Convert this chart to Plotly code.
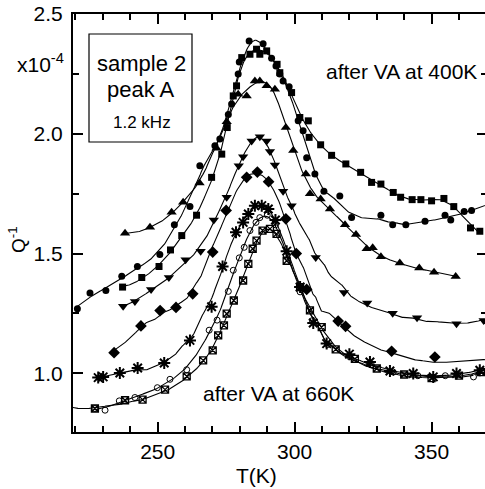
import numpy as np
import plotly.graph_objects as go

# ---------------- data ----------------
T_circ = [220.7, 225.3, 231.1, 236.9, 242.6, 250.8, 256.1, 261.8, 265.4, 270.9, 272.7, 275.8, 277.0,
          279.4, 279.8, 283.4, 288.5, 291.6, 293.2, 294.6, 295.8, 298.0, 301.3, 303.1, 304.4, 307.4,
          310.7, 316.5, 320.8, 331.5, 335.8, 340.6, 347.6, 354.9, 357.0, 361.9, 364.6, 372.0]
Q_circ = [1.27, 1.335, 1.346, 1.405, 1.446, 1.496, 1.62, 1.696, 1.867, 1.95, 1.978, 2.08, 2.124,
          2.25, 2.30, 2.387, 2.376, 2.315, 2.283, 2.25, 2.22, 2.196, 2.054, 2.0125, 1.90, 1.832,
          1.76, 1.74, 1.65, 1.66, 1.62, 1.62, 1.635, 1.66, 1.64, 1.676, 1.68, 1.71]

T_sq = [237.2, 244.2, 250.5, 254.7, 258.8, 264.2, 269.7, 273.4, 275.4, 277.6, 278.8, 280.7, 283.7,
        286.1, 287.3, 289.8, 293.6, 294.6, 298.9, 301.9, 305.0, 305.3, 309.5, 313.5, 318.7, 324.1,
        328.1, 331.5, 336.0, 338.7, 342.9, 346.1, 350.0, 354.5, 358.1, 364.2, 367.6]
Q_sq = [1.36, 1.40, 1.446, 1.515, 1.575, 1.66, 1.818, 1.915, 2.026, 2.158, 2.20, 2.318, 2.332,
        2.353, 2.332, 2.346, 2.29, 2.255, 2.172, 2.068, 2.054, 1.985, 1.954, 1.91, 1.874, 1.839,
        1.797, 1.79, 1.755, 1.735, 1.725, 1.725, 1.72, 1.73, 1.696, 1.607, 1.593]

T_tu = [238.1, 247.2, 255.1, 259.3, 265.3, 271.5, 275.2, 279.4, 282.5, 285.5, 287.3, 289.8, 292.8,
        296.8, 299.5, 304.1, 305.6, 309.5, 312.9, 318.4, 322.4, 326.3, 328.5, 331.5, 338.4, 345.5,
        350.9, 358.8]
Q_tu = [1.585, 1.61, 1.672, 1.714, 1.795, 1.94, 2.05, 2.165, 2.158, 2.22, 2.22, 2.20, 2.186,
        2.026, 1.93, 1.832, 1.75, 1.728, 1.686, 1.62, 1.58, 1.52, 1.524, 1.487, 1.461, 1.44,
        1.422, 1.404]

T_td = [237.4, 241.7, 247.6, 254.1, 260.2, 265.7, 270.5, 275.2, 279.6, 281.2, 284.3, 287.3, 289.8,
        291.0, 292.8, 295.8, 298.9, 307.7, 318.0, 326.5, 335.8, 344.7, 359.1, 369.0]
Q_td = [1.28, 1.30, 1.35, 1.40, 1.474, 1.51, 1.64, 1.735, 1.866, 1.904, 1.97, 1.988, 1.97,
        1.926, 1.87, 1.76, 1.70, 1.483, 1.337, 1.294, 1.251, 1.232, 1.207, 1.22]

T_dia = [234.1, 243.9, 250.9, 256.7, 262.8, 270.1, 275.0, 282.5, 286.4, 290.5, 296.8, 300.6,
         304.4, 315.9, 318.6, 335.4, 351.2, 372.0]
Q_dia = [1.086, 1.198, 1.262, 1.275, 1.332, 1.506, 1.68, 1.818, 1.84, 1.80, 1.645, 1.50,
         1.35, 1.218, 1.196, 1.092, 1.068, 1.078]

T_ast = [228.3, 230.1, 236.2, 242.7, 252.4, 261.8, 269.7, 273.7, 278.6, 281.2, 283.1, 285.5, 288.0,
         290.4, 293.0, 297.1, 302.0, 306.8, 311.7, 320.0, 327.5, 334.8, 343.3, 350.6, 359.1, 367.6]
Q_ast = [0.982, 0.985, 1.001, 1.022, 1.043, 1.1375, 1.278, 1.446, 1.589, 1.63, 1.665, 1.70, 1.70,
         1.686, 1.64, 1.51, 1.36, 1.21, 1.124, 1.08, 1.047, 1.01, 0.999, 0.985, 0.999, 1.0125]

T_oc = [227.1, 230.8, 236.0, 241.7, 249.9, 254.5, 260.6, 268.8, 271.7, 275.8, 277.6, 279.8, 281.6,
        283.7, 285.9, 287.3, 290.0, 293.0, 297.0, 302.0, 306.5, 312.0, 320.0, 328.0, 336.0, 345.0,
        355.0, 365.3]
Q_oc = [0.853, 0.846, 0.885, 0.899, 0.94, 0.975, 1.015, 1.18, 1.222, 1.342, 1.43, 1.482, 1.526,
        1.596, 1.63, 1.65, 1.66, 1.62, 1.49, 1.34, 1.22, 1.12, 1.07, 1.035, 1.005, 0.99,
        0.99, 0.985]

T_xs = [217.5, 227.1, 238.1, 244.5, 252.7, 260.6, 266.6, 270.1, 272.1, 274.2, 275.2, 277.8, 281.2,
        283.1, 284.7, 286.1, 288.3, 291.0, 293.4, 297.1, 302.0, 305.6, 309.9, 315.0, 322.0, 330.0,
        340.0, 350.0, 360.0, 368.0]
Q_xs = [0.856, 0.853, 0.8875, 0.89, 0.932, 0.9875, 1.054, 1.096, 1.158, 1.20, 1.249, 1.304, 1.3875,
        1.457, 1.52, 1.554, 1.596, 1.603, 1.582, 1.47, 1.36, 1.2625, 1.193, 1.10, 1.06, 1.02,
        0.995, 0.98, 0.99, 1.005]

x_range = [219.1, 369.5]
y_range = [0.755, 2.5]

# ---------------- helpers ----------------
W, H = 485, 489
ML, MR, MT, MB = 73, 0, 14, 57
PW, PH = W - ML - MR, H - MT - MB


def px_x(px):
    return (px - ML) / PW


def px_y(py):
    return (H - MB - py) / PH


def smooth(x, y, bw=4.0, n=400):
    """Local quadratic regression with a Gaussian kernel (adaptive width)."""
    x = np.asarray(x, float)
    y = np.asarray(y, float)
    g = np.linspace(x.min(), x.max(), n)
    out = []
    for gv in g:
        d = x - gv
        ds = np.sort(np.abs(d))
        bwl = max(bw, 0.7 * ds[min(3, len(ds) - 1)])
        w = np.exp(-0.5 * (d / bwl) ** 2)
        A = np.vstack([np.ones_like(d), d / bwl, (d / bwl) ** 2]).T
        AtW = A.T * w
        M = AtW @ A + np.diag([1e-9, 1e-6, 1e-3])
        c = np.linalg.solve(M, AtW @ y)
        out.append(c[0])
    return g, np.array(out)


series = [
    (T_circ, Q_circ, dict(symbol="circle", size=7, color="black"), 4.5),
    (T_sq, Q_sq, dict(symbol="square", size=7, color="black"), 4.0),
    (T_tu, Q_tu, dict(symbol="triangle-up", size=9, color="black"), 4.0),
    (T_td, Q_td, dict(symbol="triangle-down", size=9, color="black"), 4.0),
    (T_dia, Q_dia, dict(symbol="diamond", size=9, color="black"), 4.0),
    (T_ast, Q_ast, dict(symbol="asterisk-open", size=10, color="black",
                        line=dict(width=2, color="black")), 4.0),
    (T_oc, Q_oc, dict(symbol="circle-open", size=6, color="black",
                      line=dict(width=1, color="black")), 4.0),
    (T_xs, Q_xs, dict(symbol="square-x-open", size=7, color="black",
                      line=dict(width=1.3, color="black")), 4.0),
]

fig = go.Figure()
for T, Q, mk, bw in series:
    gx, gy = smooth(T, Q, bw)
    fig.add_trace(go.Scatter(x=gx, y=gy, mode="lines",
                             line=dict(color="black", width=1.1),
                             showlegend=False, hoverinfo="skip"))
    fig.add_trace(go.Scatter(x=T, y=Q, mode="markers", marker=mk, showlegend=False))

# dummy trace so the right-hand tick axis is drawn
fig.add_trace(go.Scatter(x=[None], y=[None], yaxis="y2", showlegend=False))

FONT = "Liberation Sans, Arial, sans-serif"

fig.update_layout(
    width=W, height=H,
    margin=dict(l=ML, r=MR, t=MT, b=MB, pad=0),
    paper_bgcolor="white", plot_bgcolor="white",
    font=dict(family=FONT, size=21, color="black"),
    xaxis=dict(range=x_range, showgrid=False, zeroline=False,
               showline=True, linewidth=2, linecolor="black", mirror="ticks",
               ticks="inside", ticklen=10, tickwidth=1.5, tickcolor="black",
               tick0=250, dtick=50, tickfont=dict(size=21), ticklabelstandoff=0,
               minor=dict(dtick=10, ticks="inside", ticklen=6, tickwidth=1.5,
                          tickcolor="black", showgrid=False)),
    yaxis=dict(range=y_range, showgrid=False, zeroline=False,
               showline=True, linewidth=2, linecolor="black",
               ticks="inside", ticklen=10, tickwidth=1.5, tickcolor="black",
               tick0=1.0, dtick=0.5, tickformat=".1f", tickfont=dict(size=21),
               ticklabelstandoff=4,
               minor=dict(dtick=0.25, ticks="inside", ticklen=6, tickwidth=1.5,
                          tickcolor="black", showgrid=False)),
    yaxis2=dict(range=y_range, overlaying="y", side="right", showgrid=False,
                zeroline=False, showline=False, showticklabels=False,
                ticks="inside", ticklen=8, tickwidth=1.5, tickcolor="black",
                tick0=1.0, dtick=0.5,
                minor=dict(dtick=0.25, ticks="inside", ticklen=4, tickwidth=1.5,
                           tickcolor="black", showgrid=False)),
)

# box with sample info
fig.add_shape(type="rect", xref="paper", yref="paper",
              x0=px_x(89), x1=px_x(192), y0=px_y(142), y1=px_y(34),
              line=dict(color="black", width=1.2), fillcolor="white", layer="above")

ann = [
    dict(text="sample 2", x=px_x(141), y=px_y(63), size=22, xanchor="center"),
    dict(text="peak A", x=px_x(141), y=px_y(90), size=22, xanchor="center"),
    dict(text="1.2 kHz", x=px_x(142), y=px_y(123), size=17, xanchor="center"),
    dict(text="after VA at 400K", x=px_x(324), y=px_y(72), size=21, xanchor="left"),
    dict(text="after VA at 660K", x=px_x(201), y=px_y(393), size=21, xanchor="left"),
    dict(text="x10<sup>-4</sup>", x=px_x(40), y=px_y(63), size=21, xanchor="center"),
    dict(text="T(K)", x=px_x(256), y=px_y(476), size=21, xanchor="center"),
]
for a in ann:
    fig.add_annotation(text=a["text"], x=a["x"], y=a["y"], xref="paper", yref="paper",
                       xanchor=a["xanchor"], yanchor="middle", showarrow=False,
                       font=dict(family=FONT, size=a["size"], color="black"))

fig.add_annotation(text="Q<sup>-1</sup>", x=px_x(17), y=px_y(240), xref="paper", yref="paper",
                   textangle=-90, xanchor="center", yanchor="middle", showarrow=False,
                   font=dict(family=FONT, size=19, color="black"))

fig.write_html("out.html")
